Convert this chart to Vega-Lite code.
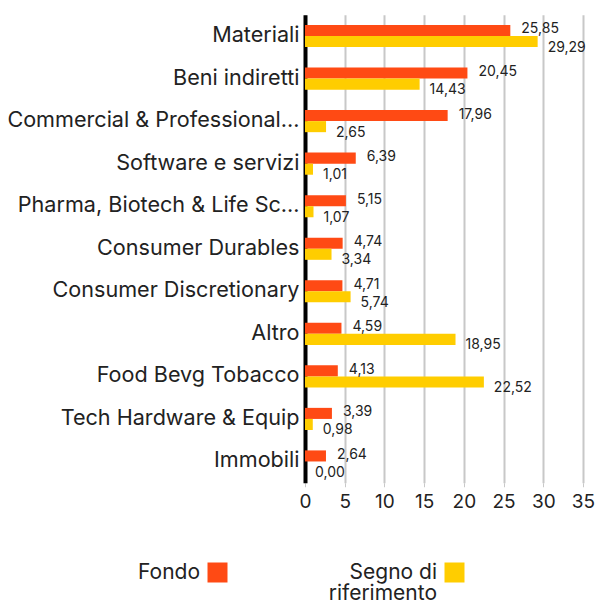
{
  "$schema": "https://vega.github.io/schema/vega-lite/v6.json",
  "autosize": "none",
  "width": 278,
  "height": 468,
  "padding": {"left": 305, "top": 14.75, "right": 12, "bottom": 121},
  "config": {
    "view": {"stroke": null},
    "font": "Inter",
    "locale": {"number": {"decimal": ",", "thousands": ".", "grouping": [3], "currency": ["€", ""]}}
  },
  "data": {
    "values": [
      {"cat": "Materiali", "series": "Fondo", "value": 25.85},
      {"cat": "Materiali", "series": "Segno di riferimento", "value": 29.29},
      {"cat": "Beni indiretti", "series": "Fondo", "value": 20.45},
      {"cat": "Beni indiretti", "series": "Segno di riferimento", "value": 14.43},
      {"cat": "Commercial & Professional...", "series": "Fondo", "value": 17.96},
      {"cat": "Commercial & Professional...", "series": "Segno di riferimento", "value": 2.65},
      {"cat": "Software e servizi", "series": "Fondo", "value": 6.39},
      {"cat": "Software e servizi", "series": "Segno di riferimento", "value": 1.01},
      {"cat": "Pharma, Biotech & Life Sc...", "series": "Fondo", "value": 5.15},
      {"cat": "Pharma, Biotech & Life Sc...", "series": "Segno di riferimento", "value": 1.07},
      {"cat": "Consumer Durables", "series": "Fondo", "value": 4.74},
      {"cat": "Consumer Durables", "series": "Segno di riferimento", "value": 3.34},
      {"cat": "Consumer Discretionary", "series": "Fondo", "value": 4.71},
      {"cat": "Consumer Discretionary", "series": "Segno di riferimento", "value": 5.74},
      {"cat": "Altro", "series": "Fondo", "value": 4.59},
      {"cat": "Altro", "series": "Segno di riferimento", "value": 18.95},
      {"cat": "Food Bevg Tobacco", "series": "Fondo", "value": 4.13},
      {"cat": "Food Bevg Tobacco", "series": "Segno di riferimento", "value": 22.52},
      {"cat": "Tech Hardware & Equip", "series": "Fondo", "value": 3.39},
      {"cat": "Tech Hardware & Equip", "series": "Segno di riferimento", "value": 0.98},
      {"cat": "Immobili", "series": "Fondo", "value": 2.64},
      {"cat": "Immobili", "series": "Segno di riferimento", "value": 0.0}
    ]
  },
  "encoding": {
    "y": {
      "field": "cat", "type": "nominal", "sort": null,
      "scale": {"paddingInner": 0.48, "paddingOuter": 0.24},
      "axis": {
        "title": null, "domainColor": "#000000", "domainWidth": 4, "ticks": false,
        "labelFontSize": 21.6, "labelColor": "#222222", "labelPadding": 6, "labelLimit": 400
      }
    },
    "yOffset": {"field": "series", "type": "nominal", "sort": ["Fondo", "Segno di riferimento"], "scale": {"paddingInner": 0, "paddingOuter": 0}},
    "x": {
      "field": "value", "type": "quantitative",
      "scale": {"domain": [0, 35], "nice": false},
      "axis": {
        "title": null, "values": [0, 5, 10, 15, 20, 25, 30, 35], "format": "d",
        "domain": false, "grid": true, "gridColor": "#c8c8c8", "gridWidth": 2,
        "tickColor": "#c8c8c8", "tickSize": 4, "tickWidth": 1, "labelFlush": false,
        "labelFontSize": 19, "labelColor": "#222222", "labelPadding": 6
      }
    }
  },
  "layer": [
    {
      "mark": {"type": "bar"},
      "encoding": {
        "color": {
          "field": "series", "type": "nominal",
          "scale": {"domain": ["Fondo", "Segno di riferimento"], "range": ["#ff4a14", "#ffcd00"]},
          "legend": {
            "title": null, "orient": "none", "direction": "horizontal",
            "legendX": -98, "legendY": 547,
            "symbolType": "square", "symbolSize": 400, "symbolStrokeWidth": 0, "symbolOpacity": 1,
            "labelAlign": "right", "labelOffset": -28, "labelFontSize": 21, "labelColor": "#222222",
            "labelExpr": "datum.label == 'Segno di riferimento' ? ['Segno di', 'riferimento'] : [datum.label, '']",
            "columnPadding": 100, "labelLimit": 300,
            "encode": {
              "labels": {
                "update": {
                  "lineHeight": {"value": 21}
                }
              }
            }
          }
        }
      }
    },
    {
      "transform": [{"filter": "datum.series == 'Fondo'"}],
      "mark": {"type": "text", "align": "left", "baseline": "middle", "dx": 11, "dy": -1, "fontSize": 14, "color": "#222222"},
      "encoding": {"text": {"field": "value", "type": "quantitative", "format": ".2f"}}
    },
    {
      "transform": [{"filter": "datum.series == 'Segno di riferimento'"}],
      "mark": {"type": "text", "align": "left", "baseline": "middle", "dx": 10, "dy": 6, "fontSize": 14, "color": "#222222"},
      "encoding": {"text": {"field": "value", "type": "quantitative", "format": ".2f"}}
    }
  ]
}
